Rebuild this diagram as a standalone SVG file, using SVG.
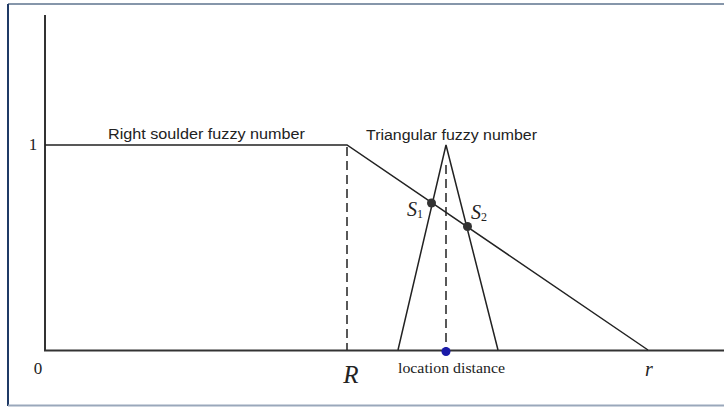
<svg xmlns="http://www.w3.org/2000/svg" width="724" height="407" viewBox="0 0 724 407">
<style>
.ln{stroke:#222;stroke-width:1.5;fill:none}
.ax{stroke:#333;stroke-width:2;fill:none}
.ds{stroke:#222;stroke-width:1.5;fill:none;stroke-dasharray:9 5}
.sans{font-family:"Liberation Sans",Arial,sans-serif;font-size:14px;fill:#222}
.ser{font-family:"Liberation Serif","Times New Roman",serif;fill:#222}
.it{font-family:"Liberation Serif","Times New Roman",serif;font-style:italic;fill:#222}
</style>
<rect x="0" y="0" width="724" height="407" fill="#fff"/>
<g id="frame">
<line x1="8" y1="4" x2="724" y2="4" stroke="#8696aa" stroke-width="2"/>
<line x1="8" y1="4" x2="8" y2="406" stroke="#1f3a66" stroke-width="2"/>
<line x1="8" y1="405.5" x2="724" y2="405.5" stroke="#9aa8bb" stroke-width="2"/>
</g>
<g id="axes">
<line class="ax" x1="45" y1="15" x2="45" y2="351"/>
<line class="ax" x1="44" y1="350.5" x2="724" y2="350.5" stroke="#555"/>
<text class="ser" x="38" y="374" font-size="17" text-anchor="middle">0</text>
<text class="ser" x="33" y="150" font-size="17" text-anchor="middle">1</text>
<text class="it" x="351" y="383" font-size="25" text-anchor="middle">R</text>
<text class="it" x="649" y="376" font-size="20" text-anchor="middle">r</text>
</g>
<g id="connectors">
<polyline id="right-shoulder" class="ln" points="45,145 347,145 648,350"/>
<polyline id="triangle" class="ln" points="398,350 446,145 498,350"/>
<line id="dash-R" class="ds" x1="347" y1="147" x2="347" y2="350"/>
<line id="dash-center" class="ds" x1="446" y1="165" x2="446" y2="350"/>
</g>
<g id="label-right-shoulder">
<text class="sans" x="108" y="139" textLength="197" lengthAdjust="spacingAndGlyphs">Right soulder fuzzy number</text>
</g>
<g id="label-triangular">
<text class="sans" x="366" y="140" textLength="171" lengthAdjust="spacingAndGlyphs">Triangular fuzzy number</text>
</g>
<g id="S1">
<circle cx="431.5" cy="203" r="4.5" fill="#333"/>
<text class="it" x="407" y="216" font-size="20">S<tspan font-size="12" dy="2" font-style="normal">1</tspan></text>
</g>
<g id="S2">
<circle cx="467.5" cy="226.5" r="4.5" fill="#333"/>
<text class="it" x="471" y="219" font-size="20">S<tspan font-size="12" dy="2" font-style="normal">2</tspan></text>
</g>
<g id="location">
<circle cx="446" cy="351.5" r="4.5" fill="#1a1aa8"/>
<text class="ser" x="398" y="373" font-size="14" textLength="107" lengthAdjust="spacingAndGlyphs">location distance</text>
</g>
</svg>
